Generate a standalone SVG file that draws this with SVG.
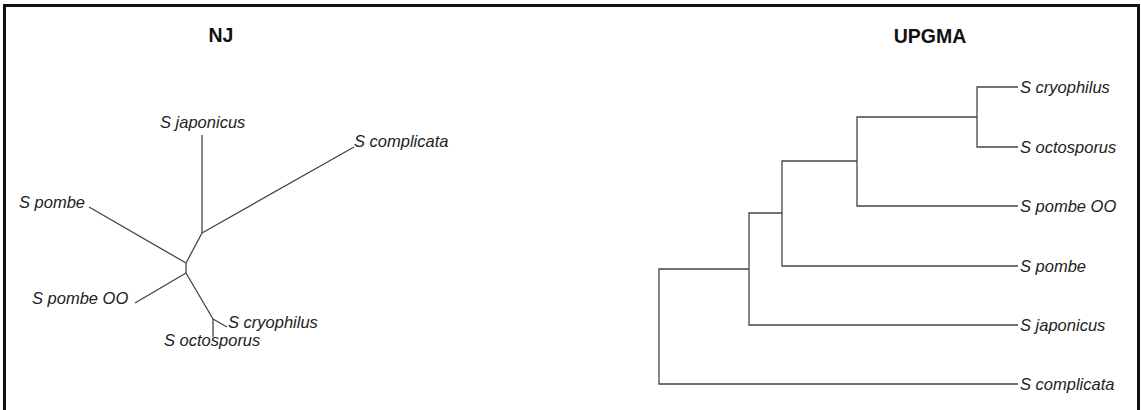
<svg xmlns="http://www.w3.org/2000/svg" width="1141" height="410" viewBox="0 0 1141 410">
<style>
.frame{fill:#fff;stroke:#111;stroke-width:3}
.title{font-family:"Liberation Sans",Arial,sans-serif;font-weight:bold;font-size:19.5px;fill:#111;text-anchor:middle}
.lbl{font-family:"Liberation Sans",Arial,sans-serif;font-style:italic;font-size:16.5px;fill:#222}
.br{fill:none;stroke:#444;stroke-width:1.3;stroke-linejoin:miter}
</style>
<rect class="frame" x="4.5" y="5.5" width="1134" height="420"/>
<text class="title" x="221" y="42">NJ</text>
<text class="title" x="930" y="42.5">UPGMA</text>
<g id="nj-connectors">
<path class="br" d="M202,135 L202,233"/>
<path class="br" d="M202,233 L354,147"/>
<path class="br" d="M202,233 L186,263"/>
<path class="br" d="M186,263 L186,273"/>
<path class="br" d="M89,207 L186,263"/>
<path class="br" d="M135,303 L186,273"/>
<path class="br" d="M186,273 L213,319"/>
<path class="br" d="M213,319 L213,337"/>
<path class="br" d="M213,319 L227,327"/>
</g>
<g id="nj-japonicus"><text class="lbl" x="160" y="128">S japonicus</text></g>
<g id="nj-complicata"><text class="lbl" x="354" y="147">S complicata</text></g>
<g id="nj-pombe"><text class="lbl" x="19" y="208">S pombe</text></g>
<g id="nj-pombeOO"><text class="lbl" x="32" y="303.5">S pombe OO</text></g>
<g id="nj-cryophilus"><text class="lbl" x="228" y="328">S cryophilus</text></g>
<g id="nj-octosporus"><text class="lbl" x="164" y="346">S octosporus</text></g>
<g id="upgma-connectors">
<path class="br" d="M749,269 H659 V384 H1018"/>
<path class="br" d="M782,213 H749 V325 H1018"/>
<path class="br" d="M857,161 H782 V266 H1018"/>
<path class="br" d="M977,117 H857 V206 H1018"/>
<path class="br" d="M1018,87 H977 V147 H1018"/>
</g>
<g id="upgma-cryophilus"><text class="lbl" x="1020" y="92.5">S cryophilus</text></g>
<g id="upgma-octosporus"><text class="lbl" x="1020" y="152.5">S octosporus</text></g>
<g id="upgma-pombeOO"><text class="lbl" x="1020" y="211.5">S pombe OO</text></g>
<g id="upgma-pombe"><text class="lbl" x="1020" y="271.5">S pombe</text></g>
<g id="upgma-japonicus"><text class="lbl" x="1020" y="330.5">S japonicus</text></g>
<g id="upgma-complicata"><text class="lbl" x="1020" y="389.5">S complicata</text></g>
</svg>
